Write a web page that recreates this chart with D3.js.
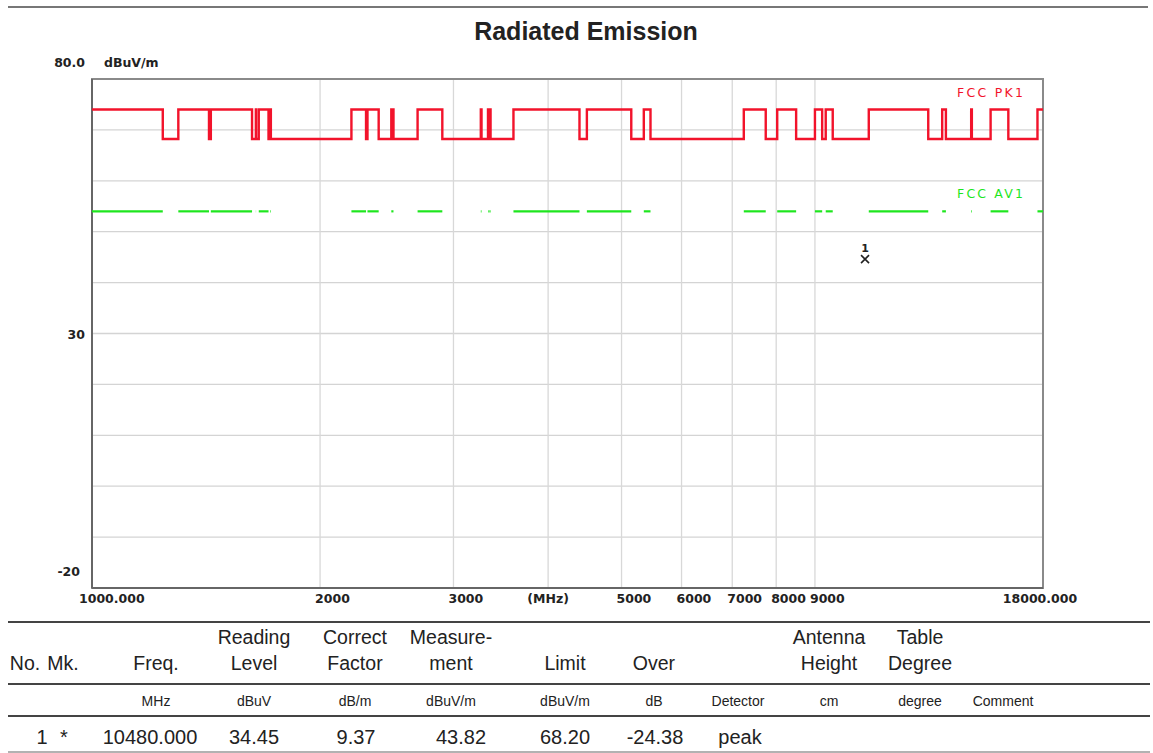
<!DOCTYPE html>
<html><head><meta charset="utf-8">
<script src="https://cdn.jsdelivr.net/npm/d3@7"></script>
<style>body{margin:0;background:#fff;} svg{display:block;}</style>
</head><body><svg id="c" width="1153" height="753"></svg>
<script>
// ---- data ----
const bandStart = [1000, 1300, 1435, 1645.5, 1660, 1718.8, 2200, 2310, 2483.5, 2690, 3260, 3332, 3345.8, 3600, 4500, 5350, 7250, 8025, 9000, 9300, 10600, 13250, 14470, 15350, 17700];
const bandEnd   = [1240, 1427, 1626.5, 1646.5, 1710, 1722.2, 2300, 2390, 2500, 2900, 3267, 3339, 3358, 4400, 5150, 5460, 7750, 8500, 9200, 9500, 12700, 13400, 14500, 16200, 18000];
const peakRestricted = 74;
const peakOther = 68.2;
const avgRestricted = 54;
const xTickValues = [1000, 2000, 3000, 4000, 5000, 6000, 7000, 8000, 9000, 18000];
const xTickLabels = ["1000.000", "2000", "3000", "(MHz)", "5000", "6000", "7000", "8000", "9000", "18000.000"];
const xGridValues = [2000, 3000, 4000, 5000, 6000, 7000, 8000, 9000];
const yGridValues = [70, 60, 50, 40, 30, 20, 10, 0, -10];
const yLabelValues = [80, 30, -20];
const yLabelTexts = ["80.0", "30", "-20"];
const markerFreq = [10480];
const markerLevel = [43.82];
const markerText = ["1"];
const legendTexts = ["FCC PK1", "FCC AV1"];
const legendLevels = [peakRestricted, avgRestricted];

const headerLine1 = ["", "", "", "Reading", "Correct", "Measure-", "", "", "", "Antenna", "Table", ""];
const headerLine2 = ["No.", "Mk.", "Freq.", "Level", "Factor", "ment", "Limit", "Over", "", "Height", "Degree", ""];
const unitRow = ["", "", "MHz", "dBuV", "dB/m", "dBuV/m", "dBuV/m", "dB", "Detector", "cm", "degree", "Comment"];
const dataRow = ["1", "*", "10480.000", "34.45", "9.37", "43.82", "68.20", "-24.38", "peak", "", "", ""];

// ---- layout ----
const L = 92, R = 1043, T = 79, B = 588;
const svg = d3.select("#c");
const x = d3.scaleLog().domain([1000, 18000]).range([L, R]);
const y = d3.scaleLinear().domain([-20, 80]).range([B, T]);

const RED = "#f2132b", GREEN = "#1ee61e";
const axisFont = "'DejaVu Sans', sans-serif";

// top rule
svg.append("line").attr("x1", 8).attr("x2", 1148).attr("y1", 7).attr("y2", 7)
  .attr("stroke", "#777").attr("stroke-width", 2);

// title
svg.append("text").attr("x", 586).attr("y", 40).attr("text-anchor", "middle")
  .attr("font-family", "'Liberation Sans', Arial, sans-serif").attr("font-weight", "bold")
  .attr("font-size", 25).attr("fill", "#222").text("Radiated Emission");

// grid
const g = svg.append("g");
g.selectAll("line.hg").data(yGridValues).enter().append("line")
  .attr("x1", L).attr("x2", R).attr("y1", d => y(d)).attr("y2", d => y(d))
  .attr("stroke", "#d4d4d4").attr("stroke-width", 1.3);
g.selectAll("line.vg").data(xGridValues).enter().append("line")
  .attr("x1", d => x(d)).attr("x2", d => x(d)).attr("y1", T).attr("y2", B)
  .attr("stroke", "#d8d8d8").attr("stroke-width", 1.3);

// border
svg.append("rect").attr("x", L).attr("y", T).attr("width", R - L).attr("height", B - T)
  .attr("fill", "none").attr("stroke", "#8a8a8a").attr("stroke-width", 2);
svg.append("line").attr("x1", L).attr("x2", L).attr("y1", T).attr("y2", B)
  .attr("stroke", "#666").attr("stroke-width", 2);
svg.append("line").attr("x1", L).attr("x2", R).attr("y1", B).attr("y2", B)
  .attr("stroke", "#666").attr("stroke-width", 2);

// peak limit step line
const bands = bandStart.map((s, i) => ({ s, e: bandEnd[i] }));
const pts = [];
bands.forEach(b => {
  if (b.s > 1000) pts.push([b.s, peakOther]);
  pts.push([b.s, peakRestricted]);
  pts.push([b.e, peakRestricted]);
  if (b.e < 18000) pts.push([b.e, peakOther]);
});
const line = d3.line().x(d => x(d[0])).y(d => y(d[1]));
svg.append("path").attr("d", line(pts)).attr("fill", "none")
  .attr("stroke", RED).attr("stroke-width", 2.4);

// average limit segments
svg.selectAll("line.av").data(bands).enter().append("line")
  .attr("x1", d => x(d.s)).attr("x2", d => x(d.e))
  .attr("y1", y(avgRestricted)).attr("y2", y(avgRestricted))
  .attr("stroke", GREEN).attr("stroke-width", 2.2);

// legend labels
svg.selectAll("text.lg").data(legendTexts).enter().append("text")
  .attr("x", 957).attr("y", (d, i) => y(legendLevels[i]) - 13)
  .attr("font-family", axisFont).attr("font-size", 12.5)
  .attr("textLength", 66).attr("lengthAdjust", "spacing")
  .attr("fill", (d, i) => i === 0 ? RED : GREEN).text(d => d);

// marker
markerFreq.forEach((f, i) => {
  const mx = x(f), my = y(markerLevel[i]) - 4;
  svg.append("text").attr("x", mx).attr("y", my - 7)
    .attr("text-anchor", "middle").attr("font-family", axisFont).attr("font-weight", "bold")
    .attr("font-size", 11).attr("fill", "#222").text(markerText[i]);
  svg.append("path")
    .attr("d", `M${mx - 4},${my - 4}L${mx + 4},${my + 4}M${mx - 4},${my + 4}L${mx + 4},${my - 4}`)
    .attr("stroke", "#222").attr("stroke-width", 1.6).attr("fill", "none");
});

// x tick labels
const nX = xTickValues.length;
svg.selectAll("text.xt").data(xTickValues).enter().append("text")
  .attr("x", (d, i) => i === 0 ? x(d) - 13 : (i === nX - 1 ? x(d) - 3 : (xTickLabels[i] === "(MHz)" ? x(d) : x(d) - 5)))
  .attr("y", 603)
  .attr("text-anchor", (d, i) => (i === nX - 1 || xTickLabels[i] === "(MHz)") ? "middle" : "start")
  .attr("font-family", axisFont).attr("font-weight", "bold").attr("font-size", 12.5)
  .attr("fill", "#222").text((d, i) => xTickLabels[i]);

// y labels
svg.selectAll("text.yt").data(yLabelValues).enter().append("text")
  .attr("x", (d, i) => i === 0 ? 85 : (i === 1 ? 85 : 80))
  .attr("y", (d, i) => i === 0 ? y(d) - 12 : (i === 2 ? y(d) - 12 : y(d) + 5))
  .attr("text-anchor", "end")
  .attr("font-family", axisFont).attr("font-weight", "bold").attr("font-size", 12.5)
  .attr("fill", "#222").text((d, i) => yLabelTexts[i]);
svg.append("text").attr("x", 104).attr("y", y(80) - 12)
  .attr("font-family", axisFont).attr("font-weight", "bold").attr("font-size", 12.5)
  .attr("fill", "#222").text("dBuV/m");

// ---- table ----
const tf = "'Liberation Sans', Arial, sans-serif";
const colX = [25, 63, 156, 254, 355, 451, 565, 654, 738, 829, 920, 1003];
const dataX = [42, 64, 150, 254, 356, 461, 565, 655, 740, 829, 920, 1003];
[[622, "#444", 2], [684, "#444", 2], [716, "#444", 2], [752, "#999", 1.5]].forEach(([yy, c, w]) => {
  svg.append("line").attr("x1", 8).attr("x2", 1150).attr("y1", yy).attr("y2", yy)
    .attr("stroke", c).attr("stroke-width", w);
});
function row(arr, xs, yy, size) {
  svg.append("g").selectAll("text").data(arr).enter().append("text")
    .attr("x", (d, i) => xs[i]).attr("y", yy).attr("text-anchor", "middle")
    .attr("font-family", tf).attr("font-size", size).attr("fill", "#222").text(d => d);
}
row(headerLine1, colX, 644, 19.5);
row(headerLine2, colX, 670, 19.5);
row(unitRow, colX, 706, 14);
row(dataRow, dataX, 744, 20);
</script></body></html>
